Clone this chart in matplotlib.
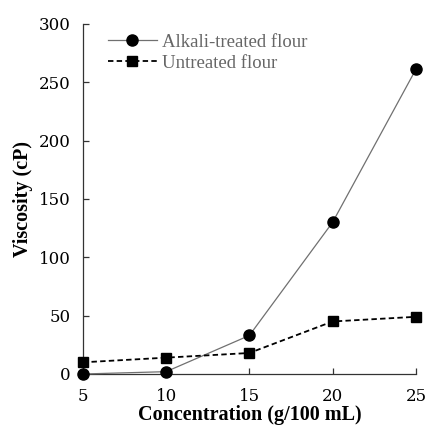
import matplotlib.pyplot as plt
import numpy as np

plt.rcParams['font.family'] = ['Liberation Serif', 'DejaVu Serif']

conc = np.array([5, 10, 15, 20, 25])
alkali = np.array([0, 2, 33, 130, 261])
untreated = np.array([10, 14, 18, 45, 49])

fig = plt.figure(figsize=(4.27, 4.25), dpi=100)
ax = fig.add_axes([0.194, 0.12, 0.78, 0.824])

ax.plot(conc, alkali, '-', color='#707070', lw=0.9, marker='o', ms=8,
        mfc='black', mec='black', label='Alkali-treated flour', clip_on=False, zorder=3)
ax.plot(conc, untreated, '--', color='black', lw=1.3, dashes=(3, 1.8), marker='s', ms=7,
        mfc='black', mec='black', label='Untreated flour', clip_on=False, zorder=3)

ax.set_xlim(5, 25)
ax.set_ylim(0, 300)
ax.set_xticks(conc)
ax.set_yticks(np.arange(0, 301, 50))
ax.spines['top'].set_visible(False)
ax.spines['right'].set_visible(False)
for s in ['left', 'bottom']:
    ax.spines[s].set_color('#333333')
    ax.spines[s].set_linewidth(0.9)
ax.tick_params(axis='both', direction='in', length=4, width=0.9, color='#333333')
ax.tick_params(axis='y', pad=9)
ax.tick_params(axis='x', pad=10)
for lab in ax.get_xticklabels() + ax.get_yticklabels():
    lab.set_family('DejaVu Serif')
    lab.set_fontsize(12)

ax.set_xlabel('Concentration (g/100 mL)', fontsize=14.5, fontweight='bold', labelpad=0)
ax.set_ylabel('Viscosity (cP)', fontsize=14.5, fontweight='bold', labelpad=4)

leg = ax.legend(loc='upper left', bbox_to_anchor=(0.025, 1.02), frameon=False, fontsize=13.5,
                handlelength=2.6, handletextpad=0.3, labelspacing=0.2, labelcolor='#666666')

fig.savefig('out.png', dpi=100)
